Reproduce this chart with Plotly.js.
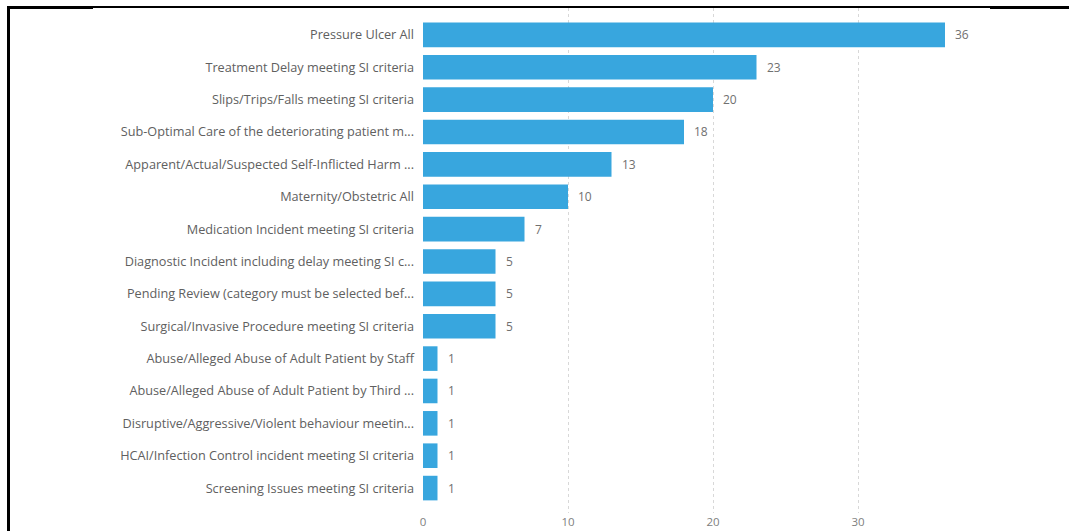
<!DOCTYPE html>
<html>
<head>
<meta charset="utf-8">
<script src="https://cdn.plot.ly/plotly-3.0.1.min.js"></script>
<style>
  html, body { margin: 0; padding: 0; background: #fff; }
  #chart { width: 1069px; height: 531px; position: absolute; left: 0; top: 0; }
  .frame { position: absolute; background: #000; }
</style>
</head>
<body>
<div id="chart"></div>
<div class="frame" style="left:7px;top:6px;width:86px;height:3px;"></div>
<div class="frame" style="left:93px;top:6px;width:897px;height:1.5px;"></div>
<div class="frame" style="left:990px;top:6px;width:79px;height:3px;"></div>
<div class="frame" style="left:7px;top:6px;width:3px;height:525px;"></div>
<script>
const categories = [
  "Pressure Ulcer All",
  "Treatment Delay meeting SI criteria",
  "Slips/Trips/Falls meeting SI criteria",
  "Sub-Optimal Care of the deteriorating patient m...",
  "Apparent/Actual/Suspected Self-Inflicted Harm ...",
  "Maternity/Obstetric All",
  "Medication Incident meeting SI criteria",
  "Diagnostic Incident including delay meeting SI c...",
  "Pending Review (category must be selected bef...",
  "Surgical/Invasive Procedure meeting SI criteria",
  "Abuse/Alleged Abuse of Adult Patient by Staff",
  "Abuse/Alleged Abuse of Adult Patient by Third ...",
  "Disruptive/Aggressive/Violent behaviour meetin...",
  "HCAI/Infection Control incident meeting SI criteria",
  "Screening Issues meeting SI criteria"
];
const counts = [36, 23, 20, 18, 13, 10, 7, 5, 5, 5, 1, 1, 1, 1, 1];
const xTicks = [0, 10, 20, 30];

const FONT = 'Open Sans, Liberation Sans, Arial, sans-serif';

const trace = {
  type: 'bar',
  orientation: 'h',
  x: counts,
  y: categories,
  marker: { color: '#38a6de' },
  width: 0.76,
  hoverinfo: 'none'
};

const annotations = counts.map((v, i) => ({
  x: v, y: categories[i], xref: 'x', yref: 'y',
  text: String(v), showarrow: false, xanchor: 'left', xshift: 8,
  font: { family: FONT, size: 12, color: '#707070' }
}));

const layout = {
  width: 1069, height: 531,
  margin: { l: 423, r: 29, t: 8, b: 18 },
  paper_bgcolor: '#fff', plot_bgcolor: '#fff',
  showlegend: false,
  xaxis: {
    range: [0, (1069 - 29 - 423) / 14.5],
    tickvals: xTicks,
    ticktext: xTicks.map(String),
    showgrid: true, gridcolor: '#d8d8d8', griddash: 'dot', gridwidth: 1,
    zeroline: false, showline: false, ticks: '',
    tickfont: { family: FONT, size: 11.5, color: '#808080' },
    ticklabelstandoff: 0
  },
  yaxis: {
    type: 'category',
    categoryorder: 'array', categoryarray: categories,
    range: [14.77, -0.83],
    showgrid: false, zeroline: false, showline: false, ticks: '',
    ticklabelstandoff: 8,
    tickfont: { family: FONT, size: 12.7, color: '#606060' }
  },
  annotations: annotations
};

Plotly.newPlot('chart', [trace], layout, { displayModeBar: false, staticPlot: true });
</script>
</body>
</html>
